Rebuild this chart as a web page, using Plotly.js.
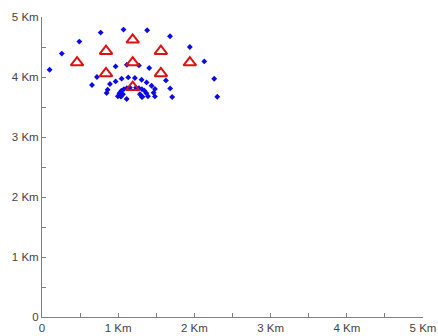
<!DOCTYPE html>
<html>
<head>
<meta charset="utf-8">
<script src="https://cdn.plot.ly/plotly-3.0.1.min.js"></script>
<style>html,body{margin:0;padding:0;background:#fff;}#chart{width:438px;height:336px;}</style>
</head>
<body>
<div id="chart"></div>
<script>
// Tick positions and labels (km)
const tickVals = [0, 1, 2, 3, 4, 5];
const tickLabels = ["0", "1 Km", "2 Km", "3 Km", "4 Km", "5 Km"];

// Red triangles (stations)
const triX = [0.46, 0.84, 1.19, 1.56, 1.94, 1.19, 0.84, 1.56, 1.19];
const triY = [4.24, 4.43, 4.62, 4.43, 4.24, 4.24, 4.06, 4.06, 3.83];

// Blue dots: outer arc
const outerX = [0.10, 0.26, 0.49, 0.77, 1.07, 1.38, 1.68, 1.94, 2.13, 2.26, 2.30];
const outerY = [4.12, 4.39, 4.59, 4.74, 4.79, 4.78, 4.68, 4.50, 4.26, 3.97, 3.67];

// Blue dots: second arc
const ring2X = [0.656, 0.721, 0.966, 1.114, 1.272, 1.407, 1.626, 1.682, 1.708];
const ring2Y = [3.867, 4.000, 4.177, 4.205, 4.193, 4.150, 3.943, 3.810, 3.667];

// Blue dots: third arc and scattered
const ring3X = [0.848, 0.861, 0.892, 0.966, 1.045, 1.132, 1.219, 1.307, 1.373, 1.438, 1.482, 1.465, 1.482, 1.111, 1.311];
const ring3Y = [3.733, 3.788, 3.883, 3.927, 3.972, 3.993, 3.983, 3.955, 3.910, 3.855, 3.800, 3.738, 3.677, 3.633, 3.667];

// Blue dots: inner dense arc
const innerX = [0.996, 1.016, 1.042, 1.075, 1.114, 1.154, 1.233, 1.272, 1.311, 1.344, 1.370, 1.390, 1.036, 1.062, 1.285, 1.318];
const innerY = [3.680, 3.730, 3.772, 3.797, 3.813, 3.822, 3.822, 3.813, 3.797, 3.772, 3.730, 3.680, 3.672, 3.713, 3.713, 3.672];

const dotX = outerX.concat(ring2X, ring3X, innerX);
const dotY = outerY.concat(ring2Y, ring3Y, innerY);

const traces = [
  {
    x: dotX, y: dotY, type: "scatter", mode: "markers",
    marker: {symbol: "diamond", size: 4.5, color: "#0a0ae6"},
    hoverinfo: "skip"
  },
  {
    x: triX, y: triY, type: "scatter", mode: "markers",
    marker: {symbol: "triangle-up-open", size: 11, color: "#e01010", line: {width: 2, color: "#e01010"}},
    hoverinfo: "skip"
  }
];

const axisCommon = {
  range: [0, 5], tickvals: tickVals, ticktext: tickLabels,
  showgrid: false, zeroline: false, showline: true, linecolor: "#808080", linewidth: 1,
  ticks: "inside", ticklen: 4, tickcolor: "#808080", tickwidth: 1,
  minor: {ticks: "inside", dtick: 0.5, ticklen: 4, tickcolor: "#808080", tickwidth: 1, showgrid: false},
  tickfont: {family: "Liberation Sans, Arial, sans-serif", size: 11.5, color: "#444444"},
  fixedrange: true
};

const layout = {
  width: 438, height: 336,
  margin: {l: 42, r: 15, t: 17, b: 19, pad: 0},
  paper_bgcolor: "#ffffff", plot_bgcolor: "#ffffff",
  showlegend: false,
  xaxis: Object.assign({}, axisCommon),
  yaxis: Object.assign({}, axisCommon)
};

Plotly.newPlot("chart", traces, layout, {displayModeBar: false, staticPlot: true});
</script>
</body>
</html>
